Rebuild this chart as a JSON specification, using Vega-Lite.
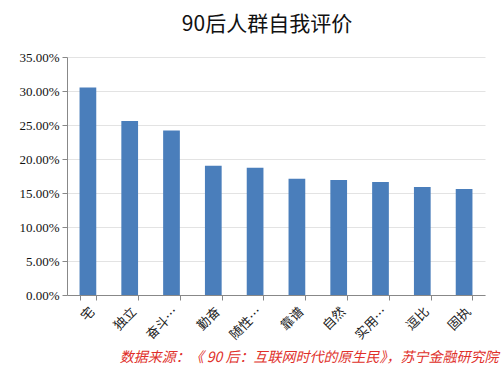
{
  "$schema": "https://vega.github.io/schema/vega-lite/v6.json",
  "autosize": "none",
  "width": 418,
  "height": 238,
  "padding": {"left": 67, "top": 57, "right": 19, "bottom": 80},
  "background": "white",
  "title": {
    "text": "90后人群自我评价",
    "font": "Noto Sans CJK SC",
    "fontSize": 21,
    "fontWeight": "normal",
    "color": "#111111",
    "anchor": "middle",
    "dx": -9,
    "offset": 16
  },
  "data": {
    "values": [
      {"trait": "宅", "value": 0.305},
      {"trait": "独立", "value": 0.256},
      {"trait": "奋斗…", "value": 0.242},
      {"trait": "勤奋", "value": 0.190},
      {"trait": "随性…", "value": 0.187},
      {"trait": "靠谱", "value": 0.171},
      {"trait": "自然", "value": 0.169},
      {"trait": "实用…", "value": 0.166},
      {"trait": "逗比", "value": 0.159},
      {"trait": "固执", "value": 0.156}
    ]
  },
  "config": {"view": {"stroke": null}},
  "mark": {"type": "bar", "color": "#4a7ebb"},
  "encoding": {
    "x": {
      "field": "trait",
      "type": "nominal",
      "sort": null,
      "scale": {"paddingInner": 0.6, "paddingOuter": 0.3},
      "axis": {
        "title": "数据来源：《 90 后：互联网时代的原生民》，苏宁金融研究院",
        "titleColor": "#e0302a",
        "titleFont": "Noto Sans CJK SC",
        "titleFontStyle": "italic",
        "titleFontWeight": "normal",
        "titleFontSize": 14,
        "titleAlign": "right",
        "titleAnchor": null,
        "titleX": 431,
        "titleY": 62,
        "titleBaseline": "middle",
        "labelAngle": -45,
        "labelAlign": "right",
        "labelBaseline": "top",
        "labelFont": "Noto Sans CJK SC",
        "labelFontSize": 13,
        "labelColor": "#222222",
        "labelPadding": 5,
        "domainColor": "#888888",
        "tickColor": "#888888",
        "tickBand": "extent",
        "tickSize": 5
      }
    },
    "y": {
      "field": "value",
      "type": "quantitative",
      "scale": {"domain": [0, 0.35]},
      "axis": {
        "title": null,
        "format": ".2%",
        "values": [0, 0.05, 0.1, 0.15, 0.2, 0.25, 0.3, 0.35],
        "labelFont": "Liberation Serif",
        "labelFontSize": 13,
        "labelColor": "#111111",
        "labelPadding": 3,
        "domainColor": "#888888",
        "tickColor": "#888888",
        "tickSize": 5,
        "gridColor": "#e3e3e3"
      }
    }
  }
}
